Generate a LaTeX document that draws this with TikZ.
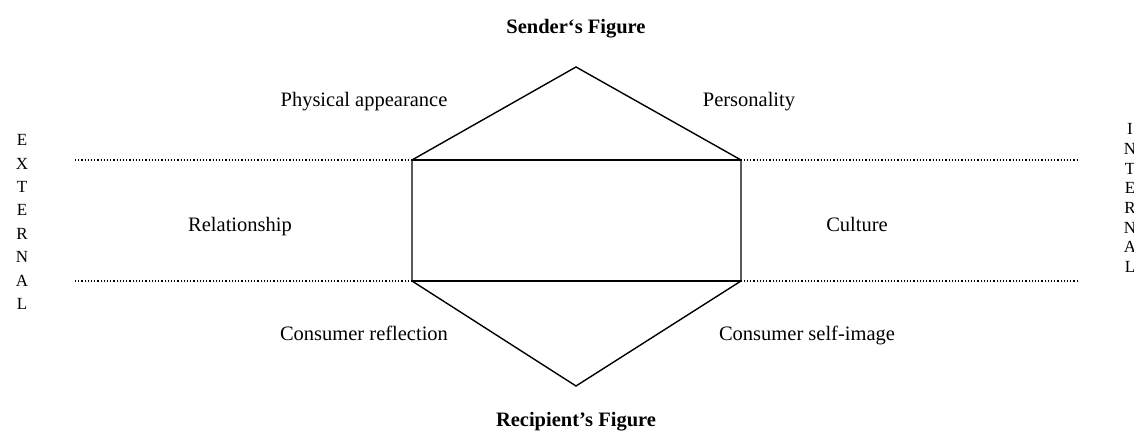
\documentclass[tikz,border=0pt]{standalone}
\usepackage{fontspec}
\setmainfont{Liberation Serif}
\begin{document}
\begin{tikzpicture}[
  x=0.5pt, y=-0.5pt,
  lbl/.style={font=\fontsize{10.25}{12}\selectfont, inner sep=0pt,
              text height=1.6ex, text depth=0.4ex},
  head/.style={lbl, font=\fontsize{10.25}{12}\selectfont\bfseries},
  side/.style={align=center, inner sep=0pt},
  edge/.style={line width=0.7pt},
  zone/.style={densely dotted, line width=0.6pt}
]
\useasboundingbox (0,0) rectangle (1134,432);

% hexagon corners
\coordinate (top)    at (576,67);
\coordinate (tl)     at (412,160);
\coordinate (tr)     at (741,160);
\coordinate (bl)     at (412,281);
\coordinate (br)     at (741,281);
\coordinate (bottom) at (576,386);

% ends of the dotted border lines
\coordinate (upL) at (75,160);
\coordinate (upR) at (1078,160);
\coordinate (loL) at (75,281);
\coordinate (loR) at (1078,281);

\draw[zone] (upL) -- (upR);
\draw[zone] (loL) -- (loR);

\draw[edge] (tl) -- (top) -- (tr) -- (br) -- (bottom) -- (bl) -- cycle;
\draw[edge] (tl) -- (tr);
\draw[edge] (bl) -- (br);

\node[head] (sender)    at (576,28)  {Sender‘s Figure};
\node[head] (recipient) at (576,421) {Recipient’s Figure};

\node[lbl] (phys)  at (364,101) {Physical appearance};
\node[lbl] (pers)  at (749,101) {Personality};
\node[lbl] (rel)   at (240,226) {Relationship};
\node[lbl] (cult)  at (857,226) {Culture};
\node[lbl] (refl)  at (364,335) {Consumer reflection};
\node[lbl] (self)  at (807,335) {Consumer self-image};

\node[side, font=\fontsize{8.5}{11.7}\selectfont] (external) at (22,222)
  {E\\X\\T\\E\\R\\N\\A\\L};
\node[side, font=\fontsize{8.5}{9.85}\selectfont] (internal) at (1130,198)
  {I\\N\\T\\E\\R\\N\\A\\L};
\end{tikzpicture}
\end{document}
